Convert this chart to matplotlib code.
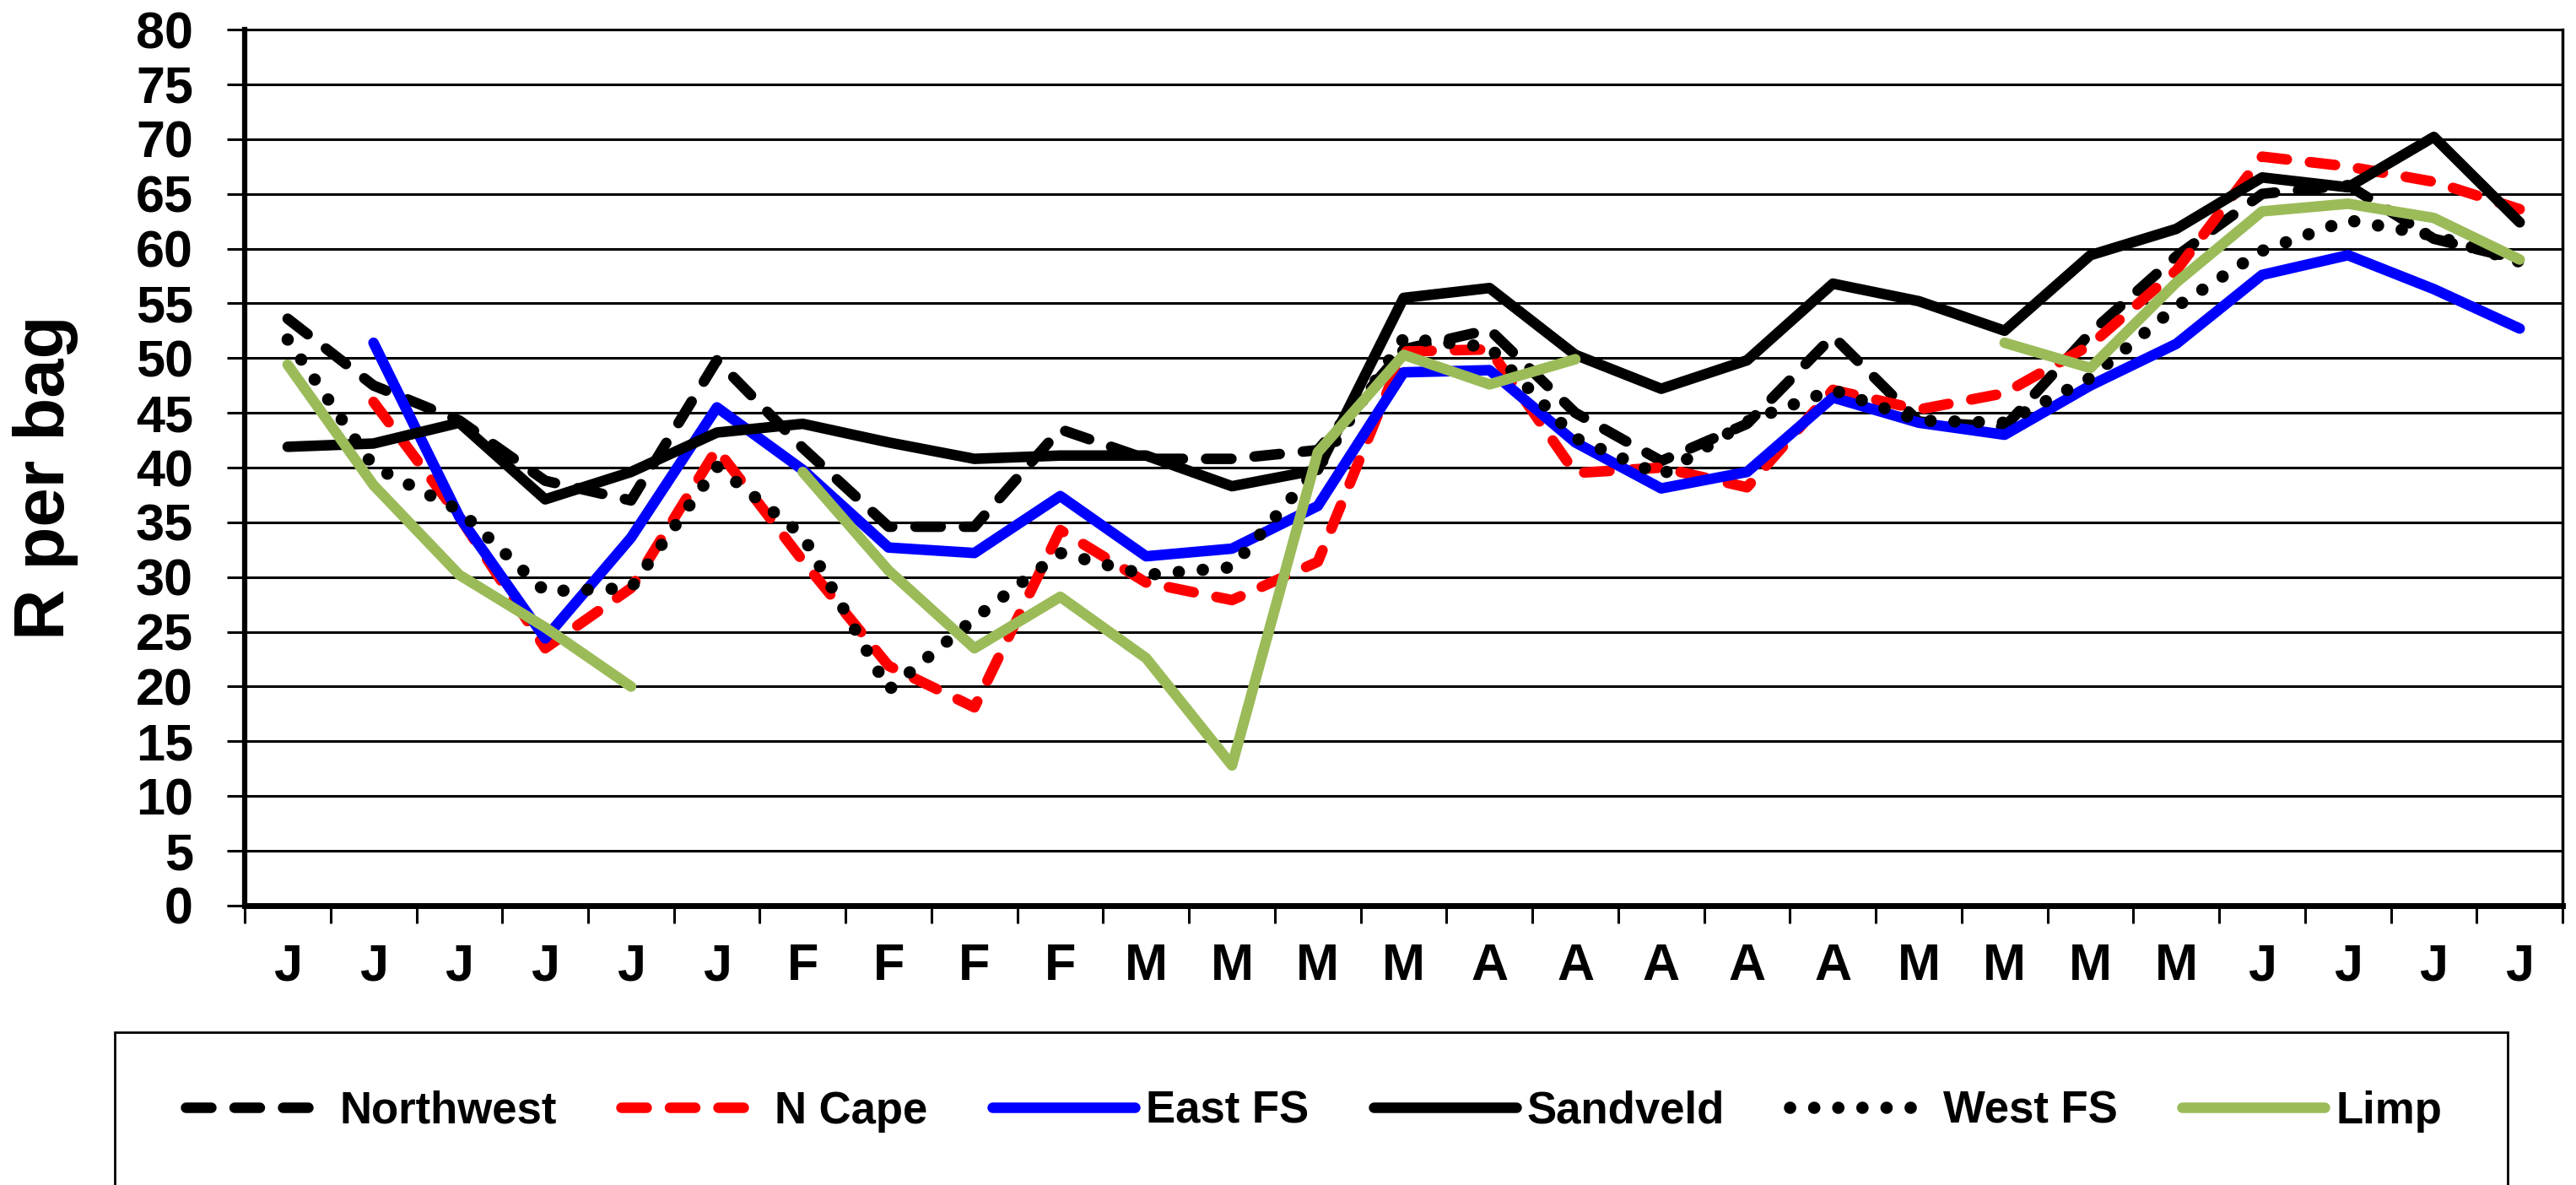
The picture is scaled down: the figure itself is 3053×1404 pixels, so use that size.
import matplotlib
matplotlib.use("Agg")
import matplotlib.pyplot as plt
import numpy as np
from matplotlib.patches import Rectangle

nan = np.nan

# month labels along the x axis
months = ["J", "J", "J", "J", "J", "J", "F", "F", "F", "F", "M", "M", "M", "M",
          "A", "A", "A", "A", "A", "M", "M", "M", "M", "J", "J", "J", "J"]

# R per bag
northwest = [53.6, 47.5, 44.3, 38.8, 37.0, 49.8, 41.8, 34.6, 34.6, 43.5, 40.8, 40.8, 41.6, 50.8,
             52.6, 45.0, 40.6, 44.0, 52.0, 44.2, 43.7, 52.3, 59.3, 65.0, 65.8, 60.9, 59.0]
n_cape = [nan, 46.0, 35.5, 23.5, 29.0, 41.7, 31.5, 21.9, 18.1, 34.3, 29.5, 27.9, 31.4, 50.6,
          50.8, 39.5, 40.0, 38.2, 47.1, 45.3, 46.8, 51.2, 58.0, 68.4, 67.5, 66.1, 63.6]
east_fs = [nan, 51.4, 35.5, 24.4, 33.6, 45.5, 39.8, 32.7, 32.2, 37.4, 31.9, 32.6, 36.5, 48.7,
           48.9, 42.3, 38.1, 39.6, 46.4, 44.1, 43.0, 47.5, 51.3, 57.6, 59.4, 56.3, 52.7]
sandveld = [41.9, 42.2, 44.1, 37.1, 39.6, 43.2, 44.0, 42.3, 40.8, 41.1, 41.1, 38.3, 39.8, 55.5,
            56.4, 50.3, 47.2, 49.8, 56.8, 55.2, 52.5, 59.4, 61.8, 66.5, 65.6, 70.2, 62.4]
west_fs = [51.7, 40.1, 36.1, 28.7, 29.0, 40.1, 33.8, 19.7, 26.2, 32.2, 30.2, 30.9, 40.0, 51.8,
           51.0, 42.7, 39.3, 44.2, 47.1, 44.3, 44.1, 48.2, 54.7, 59.8, 62.6, 61.2, 58.8]
limp = [49.4, 38.4, 30.2, 25.4, 20.0, nan, 39.6, 30.6, 23.5, 28.2, 22.6, 12.8, 41.4, 50.3,
        47.6, 49.9, nan, nan, nan, nan, 51.4, 49.1, 56.9, 63.4, 64.1, 62.8, 59.0]

plt.rcParams["font.family"] = ["Liberation Sans", "DejaVu Sans"]
plt.rcParams["font.weight"] = "bold"

fig = plt.figure(figsize=(30.53, 14.04), dpi=100)
ax = fig.add_axes([0.095, 0.2358, 0.8998, 0.7392])

x = np.arange(len(months))
lw = 9
dash = (0, (2.4, 2.2))
ax.plot(x, northwest, color="black", lw=lw, linestyle=dash,
        dash_capstyle="round", label="Northwest")
ax.plot(x, n_cape, color="#FF0000", lw=lw, linestyle=dash,
        dash_capstyle="round", label="N Cape")
ax.plot(x, east_fs, color="#0000FF", lw=lw, solid_capstyle="round", label="East FS")
ax.plot(x, sandveld, color="black", lw=lw, solid_capstyle="round", label="Sandveld")
ax.plot(x, west_fs, color="black", lw=10.5, linestyle=(0, (0.01, 1.95)),
        dash_capstyle="round", label="West FS")
ax.plot(x, limp, color="#9BBB59", lw=lw, solid_capstyle="round", label="Limp")

ax.set_ylim(0, 80)
ax.set_yticks(np.arange(0, 81, 5))
ax.set_xlim(-0.5, len(months) - 0.5)
ax.yaxis.grid(True, color="black", lw=2.2)
ax.set_axisbelow(True)

# ticks on category edges, labels in the middle
ax.set_xticks(np.arange(-0.5, len(months), 1))
ax.set_xticklabels([])
ax.set_xticks(x, minor=True)
ax.set_xticklabels(months, minor=True)
ax.tick_params(axis="x", which="major", length=15, width=2.2)
ax.tick_params(axis="x", which="minor", length=0, pad=32, labelsize=44)
ax.tick_params(axis="y", length=15, width=2.2, pad=29, labelsize=44)

ax.spines["left"].set_linewidth(4.5)
ax.spines["bottom"].set_linewidth(5)
ax.spines["top"].set_linewidth(2.2)
ax.spines["right"].set_linewidth(2.5)

fig.text(54 / 3053, 1 - 566 / 1404, "R per bag", rotation=90, fontsize=60,
         ha="center", va="center")

fig.add_artist(Rectangle((0.0445, -0.05), 0.929, 0.179, transform=fig.transFigure,
                         fill=False, lw=2, edgecolor="black", clip_on=False))
fig.legend(loc="center", bbox_to_anchor=(0.51, 0.062), ncol=6, frameon=False,
           fontsize=38, handlelength=3.2, handletextpad=0.25, columnspacing=1.45)

fig.savefig("out.png", dpi=100)
